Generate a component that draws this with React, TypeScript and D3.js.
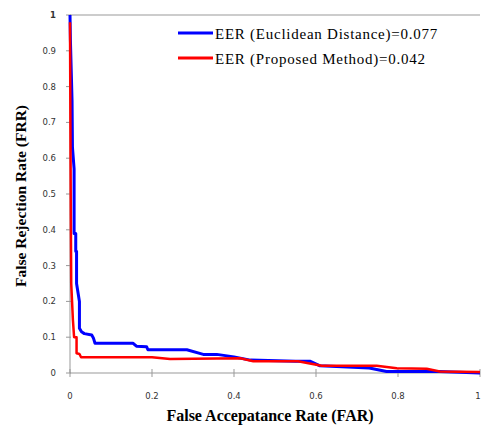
import React from "react";
import * as d3 from "d3";

const W = 481, H = 432;
const xTicks = [0, 0.2, 0.4, 0.6, 0.8, 1];
const yTicks = [0, 0.1, 0.2, 0.3, 0.4, 0.5, 0.6, 0.7, 0.8, 0.9, 1];
const xTickLabels = ["0", "0.2", "0.4", "0.6", "0.8", "1"];
const yTickLabels = ["0", "0.1", "0.2", "0.3", "0.4", "0.5", "0.6", "0.7", "0.8", "0.9", "1"];

const seriesNames = ["EER (Euclidean Distance)=0.077", "EER (Proposed Method)=0.042"];
const seriesColors = ["#0000ff", "#ff0000"];

// Euclidean distance: FAR, FRR
const euclidFAR = [0, 0.001, 0.005, 0.006, 0.01, 0.01, 0.014, 0.014, 0.016, 0.016, 0.023, 0.023, 0.028, 0.035, 0.053, 0.057, 0.061, 0.154, 0.162, 0.187, 0.19, 0.285, 0.325, 0.358, 0.4, 0.44, 0.55, 0.585, 0.61, 0.73, 0.772, 0.9, 1];
const euclidFRR = [1, 0.93, 0.76, 0.63, 0.57, 0.39, 0.39, 0.34, 0.34, 0.25, 0.2, 0.125, 0.115, 0.11, 0.106, 0.098, 0.083, 0.083, 0.075, 0.073, 0.065, 0.065, 0.052, 0.052, 0.045, 0.036, 0.033, 0.033, 0.02, 0.014, 0.004, 0.004, 0];

// Proposed method: FAR, FRR
const propFAR = [0, 0.001, 0.002, 0.003, 0.005, 0.007, 0.01, 0.016, 0.016, 0.023, 0.027, 0.2, 0.244, 0.415, 0.447, 0.556, 0.614, 0.748, 0.797, 0.87, 0.902, 1];
const propFRR = [0.98, 0.7, 0.44, 0.25, 0.2, 0.15, 0.1, 0.1, 0.055, 0.053, 0.044, 0.044, 0.039, 0.041, 0.033, 0.033, 0.02, 0.02, 0.013, 0.012, 0.004, 0.003];

const margin = { left: 70, top: 15, right: 1, bottom: 59 };

export default function App() {
  const x = d3.scaleLinear().domain([0, 1]).range([margin.left, W - margin.right]);
  const y = d3.scaleLinear().domain([0, 1]).range([H - margin.bottom, margin.top]);
  const line = d3.line<[number, number]>().x(d => x(d[0])).y(d => y(d[1]));
  const euclid = euclidFAR.map((v, i) => [v, euclidFRR[i]] as [number, number]);
  const prop = propFAR.map((v, i) => [v, propFRR[i]] as [number, number]);
  const axisColor = "#999";
  const tickFont = "'DejaVu Sans', sans-serif";
  const serif = "'Liberation Serif', 'Times New Roman', serif";
  return (
    <svg width={W} height={H} style={{ position: "absolute", left: 0, top: 0, background: "#fff" }}>
      <rect x={0} y={0} width={W} height={H} fill="#fff" />
      {/* top border */}
      <line x1={x(0)} x2={x(1)} y1={y(1)} y2={y(1)} stroke={axisColor} strokeWidth={1} />
      {/* axes */}
      <line x1={x(0)} x2={x(0)} y1={y(0)} y2={y(1)} stroke={axisColor} strokeWidth={1} />
      <line x1={x(0)} x2={x(1)} y1={y(0)} y2={y(0)} stroke={axisColor} strokeWidth={1} />
      {yTicks.map((t, i) => (
        <g key={"y" + i}>
          <line x1={x(0) - 4} x2={x(0) + 1} y1={y(t)} y2={y(t)} stroke={axisColor} />
          <text x={x(0) - 14} y={y(t) + 3} textAnchor="end" fontFamily={tickFont} fontSize={8.5}
            fontWeight={t === 1 ? "bold" : "normal"} fill="#333">{yTickLabels[i]}</text>
        </g>
      ))}
      {xTicks.map((t, i) => (
        <g key={"x" + i}>
          <line x1={x(t)} x2={x(t)} y1={y(0) - 4} y2={y(0) + 4} stroke={axisColor} />
          <text x={t === 1 ? x(t) - 2 : x(t)} y={y(0) + 26} textAnchor="middle" fontFamily={tickFont} fontSize={8.5} fill="#333">{xTickLabels[i]}</text>
        </g>
      ))}
      <path d={line(euclid) || ""} fill="none" stroke={seriesColors[0]} strokeWidth={3} strokeLinejoin="round" />
      <path d={line(prop) || ""} fill="none" stroke={seriesColors[1]} strokeWidth={2.5} strokeLinejoin="round" />
      {/* legend */}
      {seriesNames.map((n, i) => (
        <g key={"l" + i}>
          <line x1={178} x2={213} y1={33 + i * 25} y2={33 + i * 25} stroke={seriesColors[i]} strokeWidth={3} />
          <text x={215} y={38.5 + i * 25} fontFamily={serif} fontSize={15} letterSpacing={0.75} fill="#000">{n}</text>
        </g>
      ))}
      <text x={270} y={421} textAnchor="middle" fontFamily={serif} fontSize={16} fontWeight="bold">False Accepatance Rate (FAR)</text>
      <text transform={`translate(26,196) rotate(-90)`} textAnchor="middle" fontFamily={serif} fontSize={15.5} fontWeight="bold">False Rejection Rate (FRR)</text>
    </svg>
  );
}
